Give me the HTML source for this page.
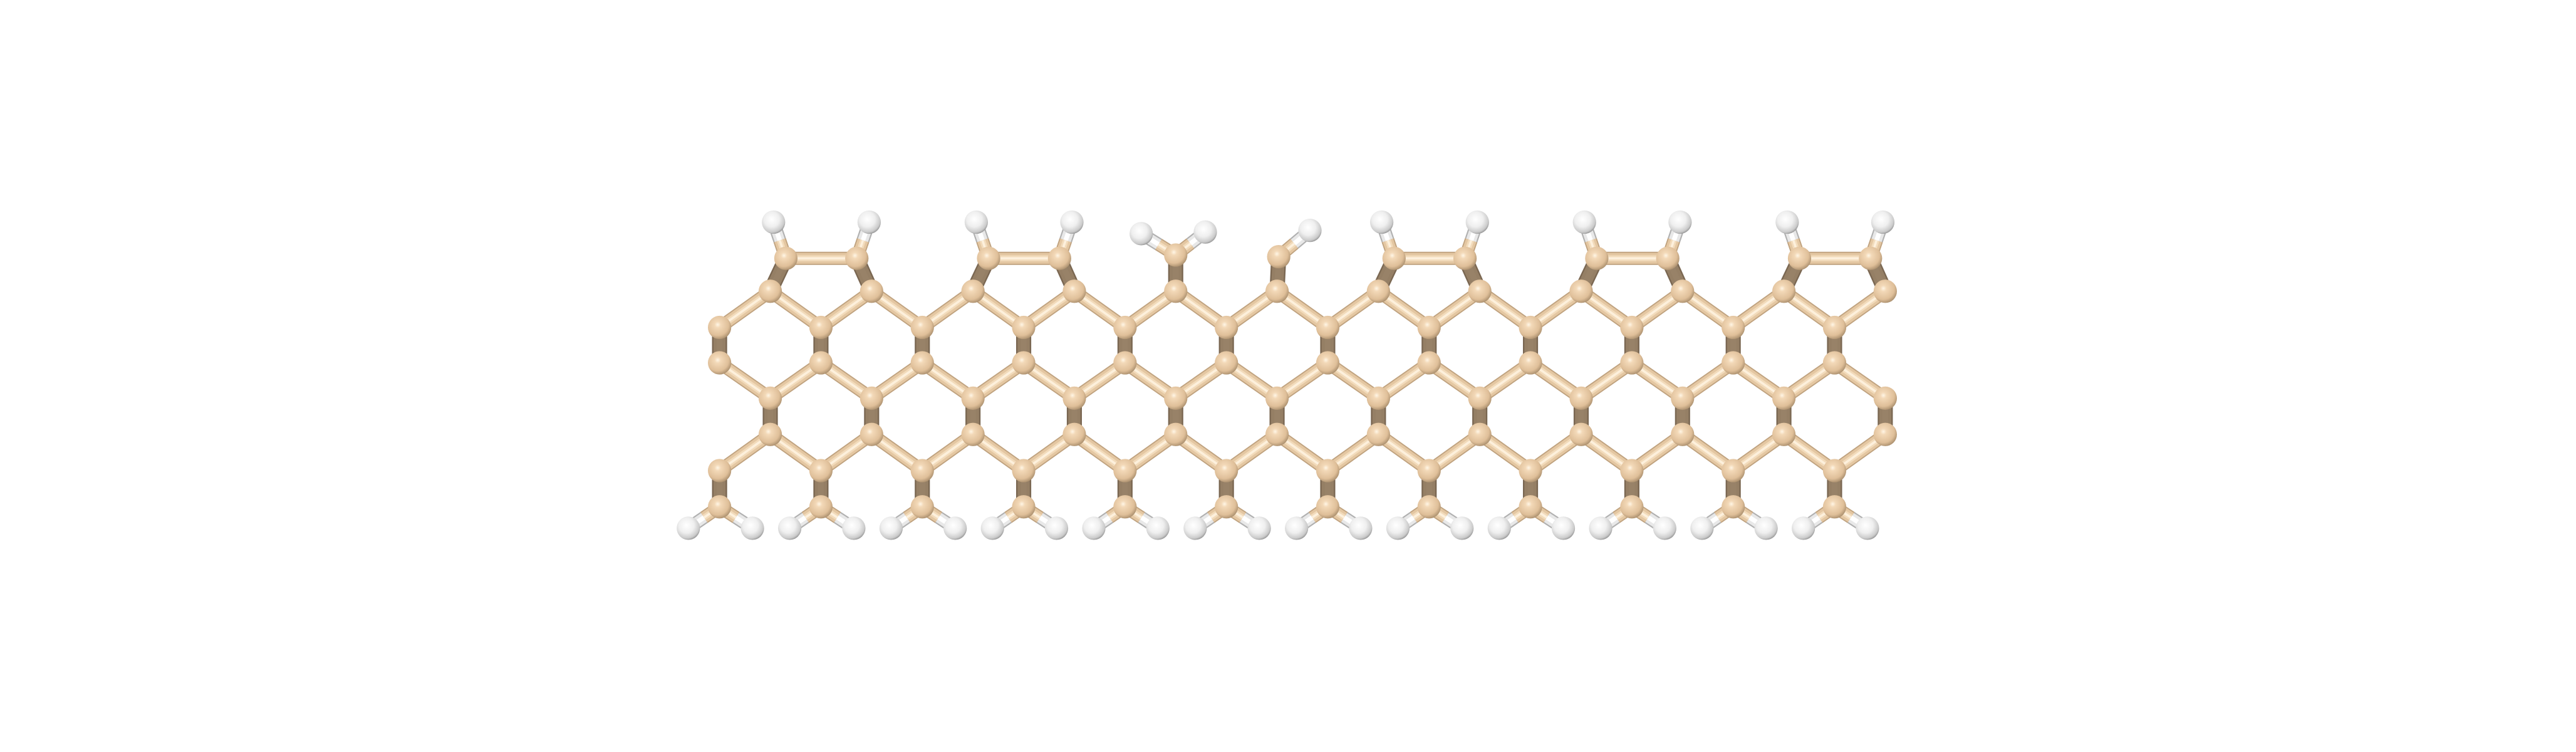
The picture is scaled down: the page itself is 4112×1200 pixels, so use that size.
<!DOCTYPE html>
<html><head><meta charset="utf-8">
<style>html,body{margin:0;padding:0;background:#fff;width:4112px;height:1200px;overflow:hidden}svg{display:block}</style>
</head><body>
<svg id="mol" xmlns="http://www.w3.org/2000/svg" width="4112" height="1200" viewBox="0 0 1568 457" preserveAspectRatio="none">
<defs>
<radialGradient id="gC" cx="0.42" cy="0.38" r="0.65">
<stop offset="0" stop-color="#fff6e6"/><stop offset="0.2" stop-color="#f3d9b8"/><stop offset="0.72" stop-color="#dfbf99"/><stop offset="1" stop-color="#a88d6c"/>
</radialGradient>
<radialGradient id="gH" cx="0.42" cy="0.38" r="0.65">
<stop offset="0" stop-color="#ffffff"/><stop offset="0.5" stop-color="#efefef"/><stop offset="0.85" stop-color="#cacaca"/><stop offset="1" stop-color="#909090"/>
</radialGradient>
</defs>
<g id="bonds"></g>
<g id="atoms"></g>
</svg>
<script>
// structure data (column indices of the lattice)
const nCols = 24;
const rowY = [177, 199, 220.5, 242, 264, 286, 308];
const dimerStarts = [1, 5, 13, 17, 21];
const ch2Cols = [9];
const chCols = [11];
const bottomCols = [0,2,4,6,8,10,12,14,16,18,20,22];

const NS='http://www.w3.org/2000/svg';
const gB=document.getElementById('bonds'), gA=document.getElementById('atoms');
function X(k){return 438+k*30.85;}
function line(x1,y1,x2,y2,c,w,parent){
  const l=document.createElementNS(NS,'line');
  l.setAttribute('x1',x1);l.setAttribute('y1',y1);l.setAttribute('x2',x2);l.setAttribute('y2',y2);
  l.setAttribute('stroke',c);l.setAttribute('stroke-width',w);
  
  
  parent.appendChild(l);
}
function lightBond(a,b){
  line(a[0],a[1],b[0],b[1],'#bfa27f',8,gB);
  line(a[0],a[1],b[0],b[1],'#e4c7a2',6.6,gB);
  line(a[0],a[1],b[0],b[1],'#f2dbbb',3.6,gB);
  line(a[0],a[1],b[0],b[1],'#fdf0dc',1.4,gB);
}
function darkBond(a,b){
  line(a[0],a[1],b[0],b[1],'#7a6752',9.2,gB);
  line(a[0],a[1],b[0],b[1],'#957f65',7.4,gB);
  line(a[0],a[1],b[0],b[1],'#a7907439',3.5,gB);
}
function chBond(c,h){
  const m=[(c[0]+h[0])/2,(c[1]+h[1])/2];
  lightBond(c,m);
  line(m[0],m[1],h[0],h[1],'#b0b0b0',8,gB);
  line(m[0],m[1],h[0],h[1],'#e8e8e8',6.4,gB);
  line(m[0],m[1],h[0],h[1],'#ffffff',2.8,gB);
}
const atomsC=[], atomsH=[];
function C(x,y){atomsC.push([x,y]);return [x,y];}
function H(x,y){atomsH.push([x,y]);return [x,y];}

const L={};
for(let k=0;k<nCols;k++){
  const rows = (k%2===1)?[0,3,4]:[1,2,5,6];
  rows.forEach(r=>{L[k+'_'+r]=C(X(k),rowY[r]);});
}
function get(k,r){return L[k+'_'+r];}
for(let k=0;k<nCols;k++){
  if(k%2===1){
    [k-1,k+1].forEach(j=>{
      if(get(j,1)) lightBond(get(k,0),get(j,1));
      if(get(j,2)) lightBond(get(j,2),get(k,3));
      if(get(j,5)) lightBond(get(k,4),get(j,5));
    });
    darkBond(get(k,3),get(k,4));
  } else {
    darkBond(get(k,1),get(k,2));
    darkBond(get(k,5),get(k,6));
  }
}
bottomCols.forEach(k=>{
  const c=get(k,6);
  chBond(c,H(X(k)-19,321));
  chBond(c,H(X(k)+20,321));
});
dimerStarts.forEach(k=>{
  const a=C(X(k)+9.5,157), b=C(X(k+2)-9,157);
  darkBond(get(k,0),a); darkBond(get(k+2,0),b);
  lightBond(a,b);
  chBond(a,H(X(k)+2,135));
  chBond(b,H(X(k+2)-1.5,135));
});
ch2Cols.forEach(k=>{
  const c=C(X(k),155);
  darkBond(get(k,0),c);
  chBond(c,H(X(k)-21,142));
  chBond(c,H(X(k)+18,141));
});
chCols.forEach(k=>{
  const c=C(X(k)+1,156);
  darkBond(get(k,0),c);
  chBond(c,H(X(k)+20,140));
});
function sphere(p,fill,r,name){
  const e=document.createElementNS(NS,'ellipse');
  e.setAttribute('cx',p[0]);e.setAttribute('cy',p[1]);e.setAttribute('rx',r);e.setAttribute('ry',r);
  e.setAttribute('fill',fill);
  
  
  gA.appendChild(e);
}
atomsC.forEach(p=>sphere(p,'url(#gC)',7.1,'carbon-atom'));
atomsH.forEach(p=>sphere(p,'url(#gH)',7.1,'hydrogen-atom'));
</script>
</body></html>
